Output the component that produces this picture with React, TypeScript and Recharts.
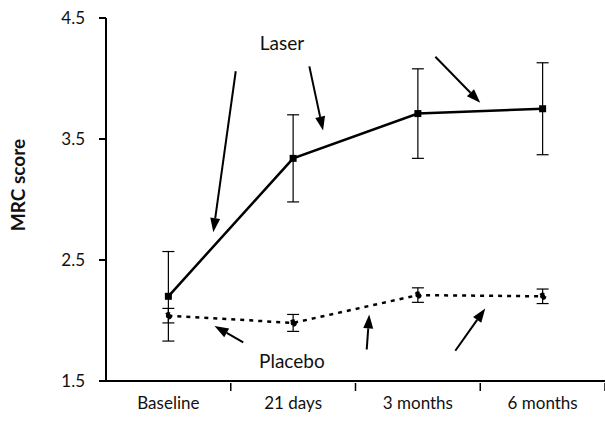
import {
  ComposedChart,
  Line,
  XAxis,
  YAxis,
  ErrorBar,
  ReferenceLine,
  ReferenceDot,
} from 'recharts';

// visit labels and scores
const categories = ['Baseline', '21 days', '3 months', '6 months'];
const laserScore = [2.2, 3.34, 3.71, 3.75];
const laserErr = [0.37, 0.36, 0.37, 0.38];
const placeboScore = [2.04, 1.98, 2.21, 2.2];
const placeboErr = [0.06, 0.07, 0.06, 0.06];
const yTicks = [1.5, 2.5, 3.5, 4.5];

// annotation arrows, in data units (x = visit index, y = score)
const arrows = [
  { x1: 0.54, y1: 4.06, x2: 0.36, y2: 2.73 },
  { x1: 1.13, y1: 4.1, x2: 1.24, y2: 3.57 },
  { x1: 2.14, y1: 4.18, x2: 2.5, y2: 3.8 },
  { x1: 0.6, y1: 1.82, x2: 0.37, y2: 1.955 },
  { x1: 1.59, y1: 1.76, x2: 1.61, y2: 2.05 },
  { x1: 2.3, y1: 1.75, x2: 2.54, y2: 2.1 },
];

const data = categories.map((c, i) => ({
  idx: i,
  name: c,
  laser: laserScore[i],
  laserErr: laserErr[i],
  placebo: placeboScore[i],
  placeboErr: placeboErr[i],
}));

const FONT = 'Lato, "Open Sans", sans-serif';

const Arrow = (props: any) => {
  const { x1, y1, x2, y2 } = props;
  const a = Math.atan2(y2 - y1, x2 - x1);
  const len = 14;
  const half = 5;
  const bx = x2 - len * Math.cos(a);
  const by = y2 - len * Math.sin(a);
  const px = -Math.sin(a) * half;
  const py = Math.cos(a) * half;
  return (
    <g>
      <line x1={x1} y1={y1} x2={bx} y2={by} stroke="#000" strokeWidth={2} />
      <polygon
        points={`${x2},${y2} ${bx + px},${by + py} ${bx - px},${by - py}`}
        fill="#000"
      />
    </g>
  );
};

const XTick = (props: any) => {
  const { x, y, payload } = props;
  const v = payload.value;
  if (Number.isInteger(v)) {
    return (
      <text x={x} y={y + 26} textAnchor="middle" fontFamily={FONT} fontSize={17} fill="#111">
        {categories[v]}
      </text>
    );
  }
  return <line x1={x} y1={y} x2={x} y2={y + 8} stroke="#000" strokeWidth={1.5} />;
};

const SquareDot = (props: any) => {
  const { cx, cy } = props;
  return <rect x={cx - 3.5} y={cy - 3.5} width={7} height={7} fill="#000" />;
};

const YLabel = () => (
  <text
    x={25}
    y={185}
    transform="rotate(-90 25 185)"
    textAnchor="middle"
    fontFamily={FONT}
    fontSize={19}
    fontWeight={700}
    fill="#111"
  >
    MRC score
  </text>
);

export default function App() {
  return (
    <div style={{ position: 'absolute', left: 0, top: 0, background: '#fff' }}>
      <ComposedChart
        width={605}
        height={422}
        data={data}
        margin={{ top: 18, right: 0, left: 0, bottom: 0 }}
      >
        <XAxis
          dataKey="idx"
          type="number"
          domain={[-0.5, 3.5]}
          ticks={[0, 0.5, 1, 1.5, 2, 2.5, 3, 3.5]}
          interval={0}
          tick={<XTick />}
          tickLine={false}
          tickSize={0}
          height={41}
          axisLine={{ stroke: '#000', strokeWidth: 2 }}
        />
        <YAxis
          domain={[1.5, 4.5]}
          ticks={yTicks}
          width={106}
          tickSize={7}
          tickMargin={14}
          tickLine={{ stroke: '#000', strokeWidth: 2 }}
          axisLine={{ stroke: '#000', strokeWidth: 2 }}
          tick={{ fill: '#111', fontSize: 17, fontFamily: FONT }}
          tickFormatter={(v) => v.toFixed(1)}
          label={<YLabel />}
        />
        <Line
          dataKey="laser"
          stroke="#000"
          strokeWidth={2.5}
          type="linear"
          dot={<SquareDot />}
          isAnimationActive={false}
        >
          <ErrorBar dataKey="laserErr" width={6} stroke="#000" strokeWidth={1.2} />
        </Line>
        <Line
          dataKey="placebo"
          stroke="#000"
          strokeWidth={2.5}
          strokeDasharray="4 5"
          type="linear"
          dot={{ r: 2.5, fill: '#000', stroke: '#000' }}
          isAnimationActive={false}
        >
          <ErrorBar dataKey="placeboErr" width={6} stroke="#000" strokeWidth={1.2} />
        </Line>
        {arrows.map((a, i) => (
          <ReferenceLine
            key={i}
            segment={[
              { x: a.x1, y: a.y1 },
              { x: a.x2, y: a.y2 },
            ]}
            shape={<Arrow />}
          />
        ))}
        <ReferenceDot
          x={0.91}
          y={4.29}
          r={0}
          label={{ value: 'Laser', position: 'center', style: { fontFamily: FONT, fontSize: 19, fill: '#111' } }}
        />
        <ReferenceDot
          x={0.99}
          y={1.66}
          r={0}
          label={{ value: 'Placebo', position: 'center', style: { fontFamily: FONT, fontSize: 19, fill: '#111' } }}
        />
      </ComposedChart>
    </div>
  );
}
